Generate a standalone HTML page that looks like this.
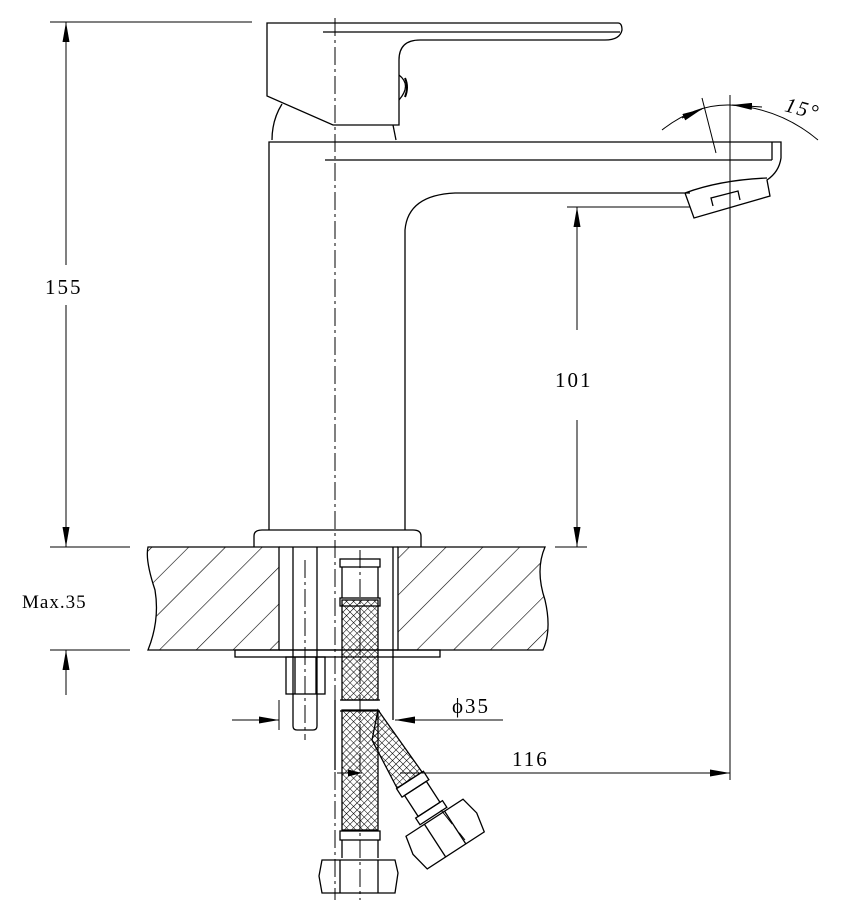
<!DOCTYPE html>
<html><head><style>body{margin:0;background:#fff}svg{display:block}</style></head><body>
<svg width="841" height="908" viewBox="0 0 841 908" xmlns="http://www.w3.org/2000/svg" font-family="Liberation Serif, serif">
<defs>
<pattern id="hatch" width="26" height="26" patternUnits="userSpaceOnUse" patternTransform="rotate(45)"><line x1="0" y1="0" x2="0" y2="26" stroke="#000" stroke-width="1.2"/></pattern>
<pattern id="mesh" width="5" height="5" patternUnits="userSpaceOnUse" patternTransform="rotate(45)"><path d="M0 0V5M0 0H5" stroke="#000" stroke-width="1.1"/></pattern>
<marker id="ar" viewBox="0 0 10 10" refX="10" refY="5" markerWidth="14" markerHeight="7" markerUnits="userSpaceOnUse" orient="auto" preserveAspectRatio="none"><path d="M0 0L10 5L0 10z" fill="#000"/></marker>
<marker id="ar2" viewBox="0 0 10 10" refX="10" refY="5" markerWidth="20" markerHeight="7" markerUnits="userSpaceOnUse" orient="auto" preserveAspectRatio="none"><path d="M0 0L10 5L0 10z" fill="#000"/></marker>
</defs>
<g fill="none" stroke="#000" stroke-width="1.3">
<!-- handle -->
<path d="M267 23H618Q622 23 622 30Q620 40 605 40H420Q399 40 399 60V125H333L267 96Z"/>
<line x1="323" y1="32" x2="620" y2="32"/>
<path d="M399 75Q412 85 399 100" /><path d="M405 78Q409 87 405 97" stroke-width="2"/>
<path d="M282 104Q272 120 272 140"/><path d="M393 125L396 140"/>
<!-- body and spout -->
<path d="M269 530V142H781V158Q779 172 767 180L770 196L694 218L685 193Q720 180 767 178 M405 530V230Q408 195 455 193H690"/>
<line x1="325" y1="160" x2="772" y2="160"/>
<line x1="772" y1="142" x2="772" y2="160"/>
<path d="M713 206L711 198L738 191L740 200"/>
<!-- flange -->
<path d="M254 547V536Q254 530 262 530H413Q421 530 421 536V547"/>
<!-- counter -->
<path d="M148 547H279V650H148Q160 620 155 590Q145 560 148 547Z" fill="url(#hatch)"/>
<path d="M398 547H545Q535 570 545 600Q552 630 543 650H398Z" fill="url(#hatch)"/>
<line x1="279" y1="547" x2="398" y2="547"/>
<line x1="279" y1="650" x2="398" y2="650"/>
<rect x="235" y="650" width="205" height="7"/>
<!-- bolt & nut -->
<path d="M293 547V726Q293 730 297 730H313Q317 730 317 726V547"/>
<rect x="286" y="657" width="39" height="37"/>
<line x1="295" y1="657" x2="295" y2="694"/><line x1="316" y1="657" x2="316" y2="694"/>
<!-- hose vertical -->
<rect x="342" y="600" width="36" height="100" fill="url(#mesh)"/>
<rect x="342" y="710" width="36" height="120" fill="url(#mesh)"/>
<path d="M378 710L422 772L397 788L372 740Z" fill="url(#mesh)"/>
<rect x="340" y="598" width="40" height="8"/><rect x="340" y="831" width="40" height="9"/>
<rect x="340" y="559" width="40" height="8"/>
<line x1="342" y1="567" x2="342" y2="598"/><line x1="378" y1="567" x2="378" y2="598"/>
<line x1="342" y1="840" x2="342" y2="858"/><line x1="378" y1="840" x2="378" y2="858"/>
<path d="M322 860H395L398 873L395 893H322L319 876Z"/>
<line x1="340" y1="860" x2="340" y2="893"/><line x1="378" y1="860" x2="378" y2="893"/>
<line x1="340" y1="700" x2="380" y2="700"/><line x1="340" y1="711" x2="380" y2="711"/>
<line x1="335" y1="700" x2="335" y2="770"/>
<!-- angled hose end -->
<g transform="translate(410,780) rotate(-33)">
<rect x="-16" y="0" width="32" height="10"/><rect x="-13" y="10" width="26" height="25"/><rect x="-16" y="35" width="32" height="8"/>
<path d="M-34 45H34L38 64L34 84H-34L-38 64Z"/>
<line x1="-12" y1="45" x2="-12" y2="84"/><line x1="12" y1="45" x2="12" y2="84"/>
</g>
<!-- centerlines -->
<g stroke-width="1" stroke-dasharray="18 4 3 4">
<line x1="335" y1="18" x2="335" y2="900"/>
<line x1="305" y1="560" x2="305" y2="740"/>
<line x1="360" y1="550" x2="360" y2="900"/>
<line x1="441" y1="810" x2="465" y2="840"/>
</g>
<line x1="393" y1="547" x2="393" y2="720"/>
<!-- dimensions -->
<g stroke-width="1">
<line x1="50" y1="22" x2="252" y2="22"/>
<line x1="50" y1="547" x2="130" y2="547"/>
<line x1="50" y1="650" x2="130" y2="650"/>
<line x1="66" y1="265" x2="66" y2="22" marker-end="url(#ar2)"/>
<line x1="66" y1="305" x2="66" y2="547" marker-end="url(#ar2)"/>
<line x1="66" y1="695" x2="66" y2="650" marker-end="url(#ar2)"/>
<line x1="567" y1="207" x2="690" y2="207"/>
<line x1="555" y1="547" x2="587" y2="547"/>
<line x1="577" y1="330" x2="577" y2="207" marker-end="url(#ar2)"/>
<line x1="577" y1="420" x2="577" y2="547" marker-end="url(#ar2)"/>
<line x1="730" y1="95" x2="730" y2="780"/>
<line x1="702" y1="98" x2="716" y2="153"/>
<line x1="400" y1="773" x2="730" y2="773" marker-end="url(#ar2)"/>
<line x1="337" y1="773" x2="362" y2="773" marker-end="url(#ar)"/>
<line x1="232" y1="720" x2="279" y2="720" marker-end="url(#ar2)"/>
<line x1="503" y1="720" x2="395" y2="720" marker-end="url(#ar2)"/>
<line x1="279" y1="700" x2="279" y2="730"/>
<path d="M662 130Q695 104 730 105Q780 108 818 140"/>
<line x1="682" y1="118" x2="702" y2="109" marker-end="url(#ar2)"/>
<line x1="762" y1="107" x2="732" y2="105" marker-end="url(#ar2)"/>
</g>
</g>
<g font-size="21" fill="#000" letter-spacing="2">
<text x="45" y="294">155</text>
<text x="555" y="387">101</text>
<text x="22" y="608" font-size="19" letter-spacing="1">Max.35</text>
<text x="452" y="713">ϕ35</text>
<text x="512" y="766">116</text>
<text x="785" y="115" font-style="italic" transform="rotate(15 800 108)">15°</text>
</g>
</svg>
</body></html>
